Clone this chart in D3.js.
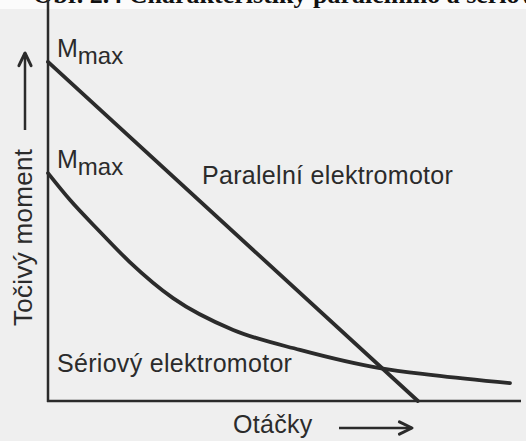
<!DOCTYPE html>
<html>
<head>
<meta charset="utf-8">
<script src="https://cdn.jsdelivr.net/npm/d3@7"></script>
<style>
  html, body { margin: 0; padding: 0; background: #efefef; }
  svg { display: block; }
</style>
</head>
<body>
<div id="chart"></div>
<script>
(function() {

  // speed in % of range, torque in % of range
  var paralelX = [0, 78.7],
      paralelY = [96.9, 0];

  var seriovyX = [0, 4.7, 11.1, 17.4, 26.6, 39.4, 53.6, 70.6, 81.9, 98.3],
      seriovyY = [65.1, 57.4, 48.3, 39.7, 29.4, 20.3, 14.6, 9.4, 7.4, 5.1];

  var labels = {
    title: 'Obr. 2.4 Charakteristiky paralelního a sériového elektromotoru',
    yAxis: 'Točivý moment',
    xAxis: 'Otáčky',
    paralel: 'Paralelní elektromotor',
    seriovy: 'Sériový elektromotor'
  };

  var width = 526, height = 441,
      ink = '#2b2b2b',
      font = '"Liberation Sans", Arial, sans-serif';

  var x = d3.scaleLinear().domain([0, 100]).range([48, 518]),
      y = d3.scaleLinear().domain([0, 100]).range([401, 51]);

  var svg = d3.select('#chart')
    .append('svg')
    .attr('width', width)
    .attr('height', height);

  svg.append('rect')
    .attr('width', width)
    .attr('height', height)
    .attr('fill', '#efefef');

  // strip of the page above (cut off heading)
  svg.append('rect')
    .attr('width', width)
    .attr('height', 9)
    .attr('fill', '#fbfbfb');

  var title = svg.append('text')
    .attr('y', 3)
    .style('font-family', '"Liberation Serif", "Times New Roman", serif')
    .style('font-weight', 'bold')
    .style('font-size', '26px')
    .style('fill', '#111')
    .text(labels.title);
  // put the "p" of "paralelního" where the scan has it
  var pIdx = labels.title.indexOf('paralel');
  var pX = title.node().getSubStringLength(0, pIdx);
  title.attr('x', 313 - pX);

  var line = d3.line()
    .x(function(d) { return x(d[0]); })
    .y(function(d) { return y(d[1]); });

  // axes
  svg.append('line')
    .attr('x1', x(0)).attr('x2', x(0))
    .attr('y1', 0).attr('y2', y(0) + 1)
    .attr('stroke', ink).attr('stroke-width', 2.5);

  svg.append('line')
    .attr('x1', x(0) - 1).attr('x2', 521)
    .attr('y1', y(0)).attr('y2', y(0))
    .attr('stroke', ink).attr('stroke-width', 2.5);

  // curves
  svg.append('path')
    .datum(d3.zip(paralelX, paralelY))
    .attr('d', line)
    .attr('fill', 'none')
    .attr('stroke', ink)
    .attr('stroke-width', 3.8)
    .attr('stroke-linecap', 'round');

  svg.append('path')
    .datum(d3.zip(seriovyX, seriovyY))
    .attr('d', line.curve(d3.curveMonotoneX))
    .attr('fill', 'none')
    .attr('stroke', ink)
    .attr('stroke-width', 3.8)
    .attr('stroke-linecap', 'round');

  // Mmax labels at the start of each curve
  [paralelY[0], seriovyY[0]].forEach(function(v) {
    var t = svg.append('text')
      .attr('x', x(0) + 9)
      .attr('y', y(v) - 5)
      .style('font-family', font)
      .style('font-size', '25px')
      .style('fill', ink);
    t.append('tspan').text('M');
    t.append('tspan').attr('dy', 7).style('font-size', '24px').text('max');
  });

  var textStyle = function(sel) {
    sel.style('font-family', font)
      .style('font-size', '25px')
      .style('letter-spacing', '0.3px')
      .style('fill', ink);
  };

  svg.append('text')
    .attr('x', 202).attr('y', 184)
    .call(textStyle)
    .text(labels.paralel);

  svg.append('text')
    .attr('x', 57).attr('y', 372)
    .call(textStyle)
    .text(labels.seriovy);

  svg.append('text')
    .attr('x', 233).attr('y', 433)
    .call(textStyle)
    .text(labels.xAxis);

  svg.append('text')
    .attr('transform', 'translate(32,326) rotate(-90)')
    .call(textStyle)
    .style('font-size', '26px')
    .text(labels.yAxis);

  // arrows
  var arrow = function(x1, y1, x2, y2) {
    var a = Math.atan2(y2 - y1, x2 - x1), h = 14, s = 0.45;
    svg.append('line')
      .attr('x1', x1).attr('y1', y1).attr('x2', x2).attr('y2', y2)
      .attr('stroke', ink).attr('stroke-width', 2.5);
    svg.append('path')
      .attr('d', 'M' + (x2 - h * Math.cos(a - s)) + ',' + (y2 - h * Math.sin(a - s)) +
        'L' + x2 + ',' + y2 +
        'L' + (x2 - h * Math.cos(a + s)) + ',' + (y2 - h * Math.sin(a + s)))
      .attr('fill', 'none')
      .attr('stroke', ink)
      .attr('stroke-width', 3)
      .attr('stroke-linejoin', 'round')
      .attr('stroke-linecap', 'round');
  };

  arrow(25, 130, 25, 53);
  arrow(339, 428, 412, 428);

})();
</script>
</body>
</html>
